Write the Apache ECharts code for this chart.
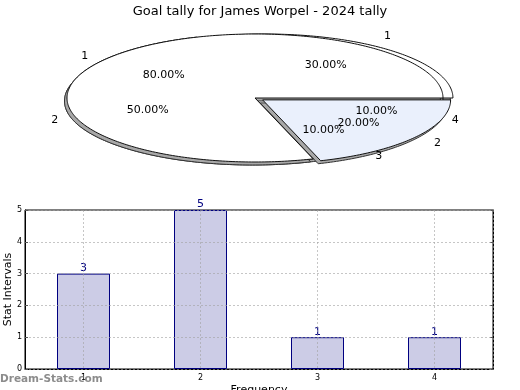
<!DOCTYPE html>
<html><head><meta charset="utf-8">
<script src="https://cdn.jsdelivr.net/npm/echarts@6/dist/echarts.min.js"></script>
<style>html,body{margin:0;padding:0;background:#fff}#c{width:520px;height:390px}</style>
</head><body><div id="c"></div>
<script>
const chartTitle = 'Goal tally for James Worpel - 2024 tally';
const freqCategories = ['1', '2', '3', '4'];
const freqValues = [3, 5, 1, 1];
const pieALabels = ['1', '2', '3', '4'];
const pieAValues = [3, 5, 1, 1];
const pieBLabels = ['1', '2'];
const pieBValues = [8, 2];
const yMin = 0, yMax = 5, yStep = 1;

const FONT = 'DejaVu Sans, sans-serif';
const CX = 255, CY = 98, RX = 188, RY = 64;
const gridLine = { color: 'rgba(160,160,160,0.6)', type: [2, 2], width: 1 };

function makePie(values, labels, explode, vFactor, fills, zBase, outerR, innerR) {
  const total = values.reduce((a, b) => a + b, 0);
  return {
    type: 'custom', coordinateSystem: 'none', silent: true, animation: false,
    data: values,
    renderItem: function (params, api) {
      const i = params.dataIndex;
      let before = 0;
      for (let k = 0; k < i; k++) before += values[k];
      const a0 = before / total * Math.PI * 2;
      const a1 = (before + values[i]) / total * Math.PI * 2;
      const mid = (a0 + a1) / 2;
      const ex = explode[i];
      const cx = CX + ex * RX * Math.cos(mid);
      const cy = CY - ex * vFactor[i] * RY * Math.sin(mid);
      const pts = [[cx, cy]];
      const n = Math.max(4, Math.ceil((a1 - a0) / (Math.PI / 180)));
      for (let s = 0; s <= n; s++) {
        const a = a0 + (a1 - a0) * s / n;
        pts.push([cx + RX * Math.cos(a), cy - RY * Math.sin(a)]);
      }
      const shadow = pts.map(p => [p[0] - 2.5, p[1] + 3]);
      const pct = (values[i] / total * 100).toFixed(2) + '%';
      const oR = outerR[i], iR = innerR[i];
      return {
        type: 'group',
        children: [
          { type: 'polygon', shape: { points: shadow }, z2: zBase,
            style: { fill: '#a8a8a8', stroke: '#333', lineWidth: 1 } },
          { type: 'polygon', shape: { points: pts }, z2: zBase + 1,
            style: { fill: fills[i], stroke: '#111', lineWidth: 1 } },
          { type: 'text', z2: 100,
            x: CX + iR * RX * Math.cos(mid), y: CY - iR * RY * Math.sin(mid),
            style: { text: pct, fill: '#000', font: '11px ' + FONT, align: 'center', verticalAlign: 'middle' } },
          { type: 'text', z2: 100,
            x: CX + oR * RX * Math.cos(mid), y: CY - oR * RY * Math.sin(mid),
            style: { text: labels[i], fill: '#000', font: '11px ' + FONT, align: 'center', verticalAlign: 'middle' } }
        ]
      };
    }
  };
}

const halfSlots = [];
freqCategories.forEach(c => { halfSlots.push(''); halfSlots.push(''); });

const chart = echarts.init(document.getElementById('c'), null, { renderer: 'canvas' });
chart.setOption({
  animation: false,
  backgroundColor: '#fff',
  title: { text: chartTitle, left: 'center', top: 0,
    textStyle: { fontSize: 13, fontWeight: 'normal', color: '#000', fontFamily: FONT } },
  grid: { left: 25, right: 27, top: 210, bottom: 21, outerBoundsMode: 'none', containLabel: false,
    show: true, borderColor: '#000', borderWidth: 1, backgroundColor: 'transparent' },
  xAxis: [{
    type: 'category', data: freqCategories,
    name: 'Frequency', nameLocation: 'middle', nameGap: 16,
    nameTextStyle: { fontSize: 11, color: '#000', fontFamily: FONT },
    axisLine: { lineStyle: { color: '#000' } },
    axisTick: { inside: true, alignWithLabel: true, length: 3, lineStyle: { color: '#555' } },
    axisLabel: { fontSize: 8, color: '#000', margin: 5, fontFamily: FONT },
    splitLine: { show: false }
  }, {
    type: 'category', data: halfSlots, position: 'bottom', z: 5,
    axisLine: { show: false }, axisTick: { show: false }, axisLabel: { show: false },
    splitLine: { show: true, interval: function (i) { return i % 2 === 1; }, lineStyle: gridLine }
  }],
  yAxis: [{
    type: 'value', min: yMin, max: yMax, interval: yStep, z: 5,
    name: 'Stat Intervals', nameLocation: 'middle', nameGap: 11, nameMoveOverlap: false,
    nameTextStyle: { fontSize: 11, color: '#000', fontFamily: FONT },
    axisLine: { show: true, lineStyle: { color: '#000' } },
    axisTick: { show: true, inside: true, length: 3, lineStyle: { color: '#555' } },
    axisLabel: { fontSize: 8, color: '#000', margin: 3, fontFamily: FONT },
    splitLine: { show: true, lineStyle: gridLine }
  }, {
    type: 'value', min: yMin, max: yMax, interval: yStep, position: 'right',
    axisLine: { show: true, lineStyle: { color: '#000' } },
    axisTick: { show: true, inside: true, length: 3, lineStyle: { color: '#555' } },
    axisLabel: { show: false }, splitLine: { show: false }
  }],
  graphic: [{
    type: 'text', left: 0, top: 374, silent: true, z: 10,
    style: { text: 'Dream-Stats.com', fill: 'rgba(120,120,120,0.85)', font: 'bold 10.5px ' + FONT }
  }],
  series: [
    makePie(pieAValues, pieALabels, [0.09, 0, 0, 0], [0, 0, 0, 0], ['#fff', '#fff', '#fff', '#fff'], 0,
      [1.2, 1.12, 1.12, 1.12], [0.64, 0.6, 0.62, 0.68]),
    makePie(pieBValues, pieBLabels, [0, 0.05], [1, 1], ['#fff', '#eaf0fc'], 3, [1.12, 1.2], [0.6, 0.68])
    ,
    {
      type: 'bar', data: freqValues, barWidth: 53, xAxisIndex: 0, yAxisIndex: 0,
      itemStyle: { color: '#ccccE6', borderColor: '#000080', borderWidth: 1 },
      label: { show: true, position: 'top', distance: 0, color: '#000080', fontSize: 11, fontFamily: FONT }
    }
  ]
});
</script></body></html>
